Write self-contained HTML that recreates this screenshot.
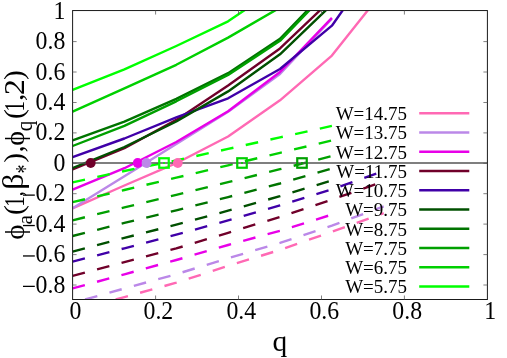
<!DOCTYPE html>
<html><head><meta charset="utf-8"><title>plot</title>
<style>html,body{margin:0;padding:0;background:#fff;}svg{display:block;will-change:transform;}text{font-family:"Liberation Serif",serif;fill:#000;}</style>
</head><body>
<svg width="507" height="358" viewBox="0 0 507 358">
<rect x="0" y="0" width="507" height="358" fill="#fff"/>
<defs><clipPath id="c"><rect x="72.6" y="10.55" width="414.79999999999995" height="288.95"/></clipPath></defs>
<g clip-path="url(#c)" fill="none" stroke-linejoin="round" stroke-linecap="butt">
<polyline points="72.6,208.3 124.4,185.5 176.3,163.2 228.1,136.5 280.0,100.3 331.9,55.6 383.7,-9.7" stroke="#ff69b4" stroke-width="2.4"/>
<polyline points="72.6,208.3 124.4,176.3 176.3,144.0 228.1,111.8 280.0,74.0 331.9,18.8" stroke="#bb88e8" stroke-width="2.4"/>
<polyline points="72.6,189.6 124.4,168.2 176.3,142.0 228.1,111.2 280.0,72.0 331.9,17.8" stroke="#e800e8" stroke-width="2.4"/>
<polyline points="72.6,169.3 124.4,148.2 176.3,119.9 228.1,85.5 280.0,48.4 331.9,-1.0" stroke="#70002a" stroke-width="2.4"/>
<polyline points="72.6,157.2 124.4,138.5 176.3,117.4 228.1,98.3 280.0,69.0 331.9,25.7 383.7,-48.0" stroke="#4000a8" stroke-width="2.4"/>
<polyline points="72.6,168.0 124.4,147.0 176.3,121.5 228.1,91.4 280.0,54.3 331.9,4.5" stroke="#005000" stroke-width="2.4"/>
<polyline points="72.6,140.4 124.4,121.7 176.3,98.8 228.1,73.2 280.0,38.8 331.9,-15.0" stroke="#007400" stroke-width="2.4"/>
<polyline points="72.6,146.0 124.4,125.8 176.3,101.3 228.1,74.9 280.0,40.8 331.9,-13.0" stroke="#00a000" stroke-width="2.4"/>
<polyline points="72.6,111.7 124.4,88.4 176.3,64.8 228.1,37.6 280.0,7.6" stroke="#00d000" stroke-width="2.4"/>
<polyline points="72.6,89.8 124.4,69.4 176.3,46.0 228.1,21.3 280.0,-13.8" stroke="#00ff00" stroke-width="2.4"/>
<polyline points="115.7,299.5 124.4,297.1 176.3,282.7 228.1,265.9 280.0,249.9 331.9,231.7 383.7,213.2" stroke="#ff69b4" stroke-width="2.4" stroke-dasharray="12.7 12.6"/>
<polyline points="85.1,299.5 124.4,288.5 176.3,274.2 228.1,258.2 280.0,242.9 331.9,225.7 383.7,206.4" stroke="#bb88e8" stroke-width="2.4" stroke-dasharray="12.7 12.6"/>
<polyline points="72.6,288.4 124.4,274.3 176.3,260.0 228.1,245.0 280.0,230.8 331.9,214.6" stroke="#e800e8" stroke-width="2.4" stroke-dasharray="12.7 12.6"/>
<polyline points="72.6,275.8 124.4,262.2 176.3,248.4 228.1,232.8 280.0,216.9 331.9,199.6 383.7,181.5" stroke="#70002a" stroke-width="2.4" stroke-dasharray="12.7 12.6"/>
<polyline points="72.6,261.6 124.4,248.3 176.3,234.7 228.1,220.4 280.0,205.4 331.9,189.3 383.7,171.0" stroke="#4000a8" stroke-width="2.4" stroke-dasharray="12.7 12.6"/>
<polyline points="72.6,251.7 124.4,237.9 176.3,224.6 228.1,210.7 280.0,196.2 331.9,180.4" stroke="#005000" stroke-width="2.4" stroke-dasharray="12.7 12.6"/>
<polyline points="72.6,236.0 124.4,222.9 176.3,210.3 228.1,197.1 280.0,183.5 331.9,168.4" stroke="#007400" stroke-width="2.4" stroke-dasharray="12.7 12.6"/>
<polyline points="72.6,220.3 124.4,207.4 176.3,194.9 228.1,182.2 280.0,169.2 331.9,156.1" stroke="#00a000" stroke-width="2.4" stroke-dasharray="12.7 12.6"/>
<polyline points="72.6,202.2 124.4,190.0 176.3,177.7 228.1,165.3 280.0,152.8 331.9,140.4" stroke="#00d000" stroke-width="2.4" stroke-dasharray="12.7 12.6"/>
<polyline points="72.6,182.3 124.4,171.0 176.3,160.4 228.1,148.9 280.0,137.4 331.9,125.9" stroke="#00ff00" stroke-width="2.4" stroke-dasharray="12.7 12.6"/>
</g>
<line x1="72.6" y1="163.0" x2="487.4" y2="163.0" stroke="#555555" stroke-width="1.6"/>
<circle cx="90.7" cy="163.0" r="4.9" fill="#70002a"/>
<circle cx="137.7" cy="163.0" r="4.9" fill="#e800e8"/>
<circle cx="146.5" cy="163.0" r="4.9" fill="#bb88e8"/>
<circle cx="177.8" cy="163.0" r="4.9" fill="#ff69b4"/>
<rect x="159.25" y="158.25" width="9.5" height="9.5" fill="none" stroke="#00ff00" stroke-width="2.2"/>
<rect x="163.10" y="162.10" width="1.8" height="1.8" fill="#00ff00"/>
<rect x="237.25" y="158.25" width="9.5" height="9.5" fill="none" stroke="#00d000" stroke-width="2.2"/>
<rect x="241.10" y="162.10" width="1.8" height="1.8" fill="#00d000"/>
<rect x="297.25" y="158.25" width="9.5" height="9.5" fill="none" stroke="#00a000" stroke-width="2.2"/>
<rect x="301.10" y="162.10" width="1.8" height="1.8" fill="#00a000"/>
<rect x="72.6" y="10.55" width="414.79999999999995" height="288.95" fill="none" stroke="#1a1a1a" stroke-width="1"/>
<text transform="translate(75.40,319.20) scale(0.93,1)" font-size="25.6" text-anchor="middle">0</text>
<line x1="155.6" y1="299.5" x2="155.6" y2="295.5" stroke="#555" stroke-width="0.75"/>
<line x1="155.6" y1="10.55" x2="155.6" y2="14.55" stroke="#555" stroke-width="0.75"/>
<text transform="translate(158.36,319.20) scale(0.93,1)" font-size="25.6" text-anchor="middle">0.2</text>
<line x1="238.5" y1="299.5" x2="238.5" y2="295.5" stroke="#555" stroke-width="0.75"/>
<line x1="238.5" y1="10.55" x2="238.5" y2="14.55" stroke="#555" stroke-width="0.75"/>
<text transform="translate(241.32,319.20) scale(0.93,1)" font-size="25.6" text-anchor="middle">0.4</text>
<line x1="321.5" y1="299.5" x2="321.5" y2="295.5" stroke="#555" stroke-width="0.75"/>
<line x1="321.5" y1="10.55" x2="321.5" y2="14.55" stroke="#555" stroke-width="0.75"/>
<text transform="translate(324.28,319.20) scale(0.93,1)" font-size="25.6" text-anchor="middle">0.6</text>
<line x1="404.4" y1="299.5" x2="404.4" y2="295.5" stroke="#555" stroke-width="0.75"/>
<line x1="404.4" y1="10.55" x2="404.4" y2="14.55" stroke="#555" stroke-width="0.75"/>
<text transform="translate(407.24,319.20) scale(0.93,1)" font-size="25.6" text-anchor="middle">0.8</text>
<text transform="translate(490.20,319.20) scale(0.93,1)" font-size="25.6" text-anchor="middle">1</text>
<line x1="72.6" y1="285.0" x2="76.6" y2="285.0" stroke="#555" stroke-width="0.75"/>
<line x1="487.4" y1="285.0" x2="483.4" y2="285.0" stroke="#555" stroke-width="0.75"/>
<text transform="translate(65.30,292.58) scale(0.93,1)" font-size="25.6" text-anchor="end">0.8</text>
<line x1="23.0" y1="286.38" x2="34.8" y2="286.38" stroke="#000" stroke-width="1.3"/>
<line x1="72.6" y1="254.6" x2="76.6" y2="254.6" stroke="#555" stroke-width="0.75"/>
<line x1="487.4" y1="254.6" x2="483.4" y2="254.6" stroke="#555" stroke-width="0.75"/>
<text transform="translate(65.30,262.16) scale(0.93,1)" font-size="25.6" text-anchor="end">0.6</text>
<line x1="23.0" y1="255.96" x2="34.8" y2="255.96" stroke="#000" stroke-width="1.3"/>
<line x1="72.6" y1="224.1" x2="76.6" y2="224.1" stroke="#555" stroke-width="0.75"/>
<line x1="487.4" y1="224.1" x2="483.4" y2="224.1" stroke="#555" stroke-width="0.75"/>
<text transform="translate(65.30,231.74) scale(0.93,1)" font-size="25.6" text-anchor="end">0.4</text>
<line x1="23.0" y1="225.54" x2="34.8" y2="225.54" stroke="#000" stroke-width="1.3"/>
<line x1="72.6" y1="193.7" x2="76.6" y2="193.7" stroke="#555" stroke-width="0.75"/>
<line x1="487.4" y1="193.7" x2="483.4" y2="193.7" stroke="#555" stroke-width="0.75"/>
<text transform="translate(65.30,201.32) scale(0.93,1)" font-size="25.6" text-anchor="end">0.2</text>
<line x1="23.0" y1="195.12" x2="34.8" y2="195.12" stroke="#000" stroke-width="1.3"/>
<line x1="72.6" y1="163.3" x2="76.6" y2="163.3" stroke="#555" stroke-width="0.75"/>
<line x1="487.4" y1="163.3" x2="483.4" y2="163.3" stroke="#555" stroke-width="0.75"/>
<text transform="translate(65.30,170.90) scale(0.93,1)" font-size="25.6" text-anchor="end">0</text>
<line x1="72.6" y1="132.9" x2="76.6" y2="132.9" stroke="#555" stroke-width="0.75"/>
<line x1="487.4" y1="132.9" x2="483.4" y2="132.9" stroke="#555" stroke-width="0.75"/>
<text transform="translate(65.30,140.48) scale(0.93,1)" font-size="25.6" text-anchor="end">0.2</text>
<line x1="72.6" y1="102.5" x2="76.6" y2="102.5" stroke="#555" stroke-width="0.75"/>
<line x1="487.4" y1="102.5" x2="483.4" y2="102.5" stroke="#555" stroke-width="0.75"/>
<text transform="translate(65.30,110.06) scale(0.93,1)" font-size="25.6" text-anchor="end">0.4</text>
<line x1="72.6" y1="72.0" x2="76.6" y2="72.0" stroke="#555" stroke-width="0.75"/>
<line x1="487.4" y1="72.0" x2="483.4" y2="72.0" stroke="#555" stroke-width="0.75"/>
<text transform="translate(65.30,79.64) scale(0.93,1)" font-size="25.6" text-anchor="end">0.6</text>
<line x1="72.6" y1="41.6" x2="76.6" y2="41.6" stroke="#555" stroke-width="0.75"/>
<line x1="487.4" y1="41.6" x2="483.4" y2="41.6" stroke="#555" stroke-width="0.75"/>
<text transform="translate(65.30,49.22) scale(0.93,1)" font-size="25.6" text-anchor="end">0.8</text>
<text transform="translate(65.30,18.80) scale(0.93,1)" font-size="25.6" text-anchor="end">1</text>
<text transform="translate(407.00,120.00) scale(0.96,1)" font-size="19.8" text-anchor="end">W=14.75</text>
<line x1="419.2" y1="113.2" x2="469.3" y2="113.2" stroke="#ff69b4" stroke-width="2.4"/>
<text transform="translate(407.00,139.26) scale(0.96,1)" font-size="19.8" text-anchor="end">W=13.75</text>
<line x1="419.2" y1="132.5" x2="469.3" y2="132.5" stroke="#bb88e8" stroke-width="2.4"/>
<text transform="translate(407.00,158.52) scale(0.96,1)" font-size="19.8" text-anchor="end">W=12.75</text>
<line x1="419.2" y1="151.7" x2="469.3" y2="151.7" stroke="#e800e8" stroke-width="2.4"/>
<text transform="translate(407.00,177.78) scale(0.96,1)" font-size="19.8" text-anchor="end">W=11.75</text>
<line x1="419.2" y1="171.0" x2="469.3" y2="171.0" stroke="#70002a" stroke-width="2.4"/>
<text transform="translate(407.00,197.04) scale(0.96,1)" font-size="19.8" text-anchor="end">W=10.75</text>
<line x1="419.2" y1="190.2" x2="469.3" y2="190.2" stroke="#4000a8" stroke-width="2.4"/>
<text transform="translate(407.00,216.30) scale(0.96,1)" font-size="19.8" text-anchor="end">W=9.75</text>
<line x1="419.2" y1="209.5" x2="469.3" y2="209.5" stroke="#005000" stroke-width="2.4"/>
<text transform="translate(407.00,235.56) scale(0.96,1)" font-size="19.8" text-anchor="end">W=8.75</text>
<line x1="419.2" y1="228.8" x2="469.3" y2="228.8" stroke="#007400" stroke-width="2.4"/>
<text transform="translate(407.00,254.82) scale(0.96,1)" font-size="19.8" text-anchor="end">W=7.75</text>
<line x1="419.2" y1="248.0" x2="469.3" y2="248.0" stroke="#00a000" stroke-width="2.4"/>
<text transform="translate(407.00,274.08) scale(0.96,1)" font-size="19.8" text-anchor="end">W=6.75</text>
<line x1="419.2" y1="267.3" x2="469.3" y2="267.3" stroke="#00d000" stroke-width="2.4"/>
<text transform="translate(407.00,293.34) scale(0.96,1)" font-size="19.8" text-anchor="end">W=5.75</text>
<line x1="419.2" y1="286.5" x2="469.3" y2="286.5" stroke="#00ff00" stroke-width="2.4"/>
<text transform="translate(279.90,351.20) scale(1.0,1)" font-size="29.5" text-anchor="middle">q</text>
<text transform="translate(23.57,239.69) rotate(-90) scale(1.032,1)" font-size="28.34">ϕ</text>
<text transform="translate(32.19,224.47) rotate(-90) scale(0.993,1)" font-size="21.92">a</text>
<text transform="translate(22.71,214.90) rotate(-90) scale(1.069,1)" font-size="27.68">(</text>
<text transform="translate(23.70,207.10) rotate(-90) scale(0.738,1)" font-size="29.24">1</text>
<text transform="translate(23.27,196.17) rotate(-90) scale(0.808,1)" font-size="24.92">,</text>
<text transform="translate(23.19,189.75) rotate(-90) scale(1.058,1)" font-size="30.10">β</text>
<text transform="translate(33.80,173.24) rotate(-90) scale(0.640,1)" font-size="26.72">*</text>
<text transform="translate(22.80,162.75) rotate(-90) scale(1.086,1)" font-size="27.24">)</text>
<text transform="translate(23.17,152.20) rotate(-90) scale(0.909,1)" font-size="28.81">,</text>
<text transform="translate(23.57,145.74) rotate(-90) scale(0.986,1)" font-size="28.34">ϕ</text>
<text transform="translate(31.81,131.26) rotate(-90) scale(0.956,1)" font-size="22.05">q</text>
<text transform="translate(22.71,119.00) rotate(-90) scale(1.069,1)" font-size="27.68">(</text>
<text transform="translate(23.70,111.70) rotate(-90) scale(0.738,1)" font-size="29.24">1</text>
<text transform="translate(22.95,100.93) rotate(-90) scale(1.069,1)" font-size="27.64">,</text>
<text transform="translate(23.70,95.31) rotate(-90) scale(1.098,1)" font-size="29.30">2</text>
<text transform="translate(22.65,80.10) rotate(-90) scale(1.095,1)" font-size="27.02">)</text>
</svg>
</body></html>
